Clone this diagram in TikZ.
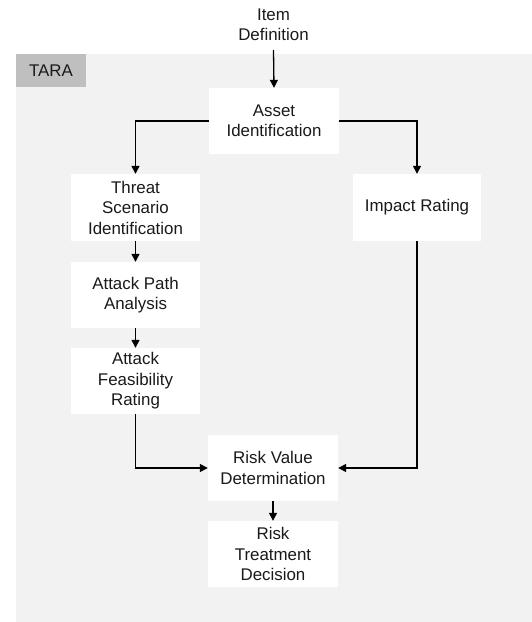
\documentclass[tikz,border=0pt]{standalone}
\usepackage{fontspec}
\setmainfont{Liberation Sans}
\usetikzlibrary{arrows.meta}
\definecolor{bggrey}{HTML}{F2F2F2}
\definecolor{tagrey}{HTML}{BFBFBF}
\definecolor{txt}{HTML}{1A1A1A}
\begin{document}
\begin{tikzpicture}[x=1pt,y=-1pt,
  every node/.style={font=\fontsize{16.9}{20.5}\selectfont, text=txt, align=center, inner sep=0pt},
  box/.style={fill=white, minimum width=130pt, minimum height=66pt},
  conn/.style={line width=1.3pt, -{Triangle[length=8pt,width=8pt]}}]
\useasboundingbox (0,0) rectangle (532,622);
\fill[bggrey] (16,54) rectangle (532,622);
\node[fill=tagrey, minimum width=70pt, minimum height=33pt] (tara) at (51,70.5) {TARA};
\node (item) at (273.5,25) {Item\\Definition};
\node[box] (asset) at (274,121) {Asset\\Identification};
\node[box, minimum width=129pt, minimum height=67pt] (threat) at (135.5,207.5) {Threat\\Scenario\\Identification};
\node[box, minimum width=128pt, minimum height=67pt] (impact) at (417,207.5) {Impact Rating};
\node[box, minimum width=129pt] (path) at (135.5,295) {Attack Path\\Analysis};
\node[box, minimum width=129pt] (feas) at (135.5,381) {Attack\\Feasibility\\Rating};
\node[box] (risk) at (273,468) {Risk Value\\Determination};
\node[box] (treat) at (273,554) {Risk\\Treatment\\Decision};
\coordinate (itemb) at (273.5,50);
\draw[conn] (itemb) -- (asset.north);
\draw[conn] (asset.west) -| (threat.north);
\draw[conn] (asset.east) -| (impact.north);
\draw[conn] (threat) -- (path);
\draw[conn] (path) -- (feas);
\draw[conn] (feas.south) |- (risk.west);
\draw[conn] (impact.south) |- (risk.east);
\draw[conn] (risk) -- (treat);
\end{tikzpicture}
\end{document}
